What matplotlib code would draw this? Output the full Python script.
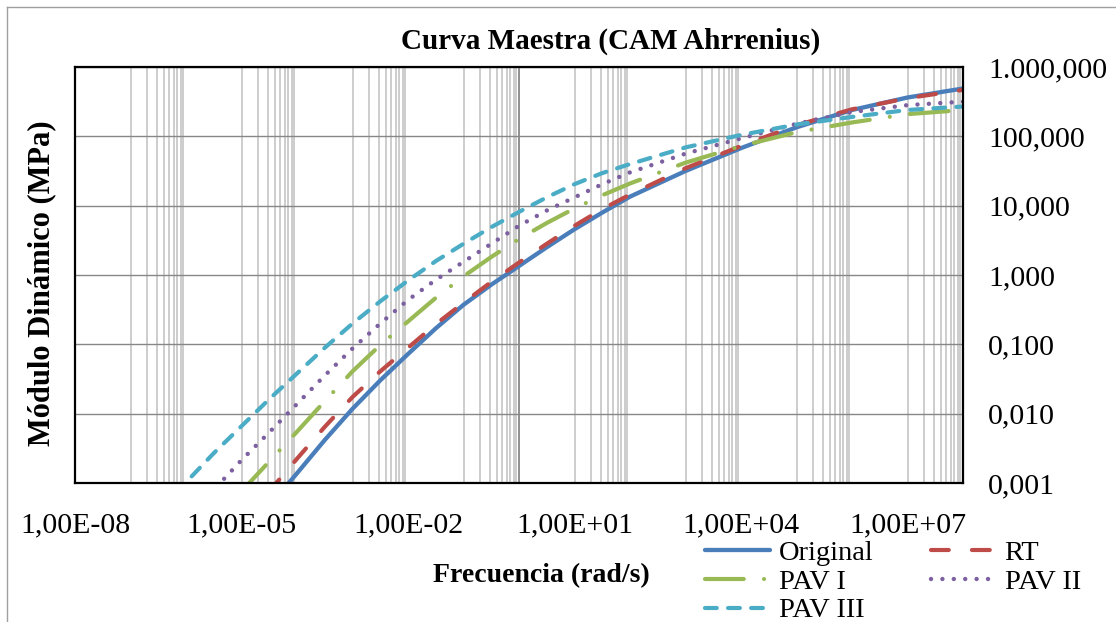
import matplotlib
matplotlib.use("Agg")
import matplotlib.pyplot as plt
from matplotlib.ticker import FixedLocator, FuncFormatter, NullFormatter
from matplotlib.lines import Line2D

# Frequency as decade exponents, log10(rad/s); half-decade steps where the curves bend most
log_freq_original = [-5, -4.5, -4, -3.5, -3, -2.5, -2, -1.5, -1, -0.5, 0, 0.5, 1, 1.5, 2, 3, 4, 5, 6, 7, 8]
log_freq_rt = [-5, -4.5, -4, -3.5, -3, -2.5, -2, -1.5, -1, -0.5, 0, 0.5, 1, 1.5, 2, 3, 4, 5, 6, 7, 8]
log_freq_pav1 = [-6, -5.5, -5, -4.5, -4, -3.5, -3, -2.5, -2, -1.5, -1, -0.5, 0, 0.5, 1, 1.5, 2, 3, 4, 5, 6, 7, 8]
log_freq_pav2 = [-6, -5.5, -5, -4.5, -4, -3.5, -3, -2.5, -2, -1.5, -1, -0.5, 0, 0.5, 1, 1.5, 2, 3, 4, 5, 6, 7, 8]
log_freq_pav3 = [-7, -6.5, -6, -5.5, -5, -4.5, -4, -3.5, -3, -2.5, -2, -1.5, -1, -0.5, 0, 0.5, 1, 1.5, 2, 3, 4, 5, 6, 7, 8]

# Dynamic modulus as decade exponents, log10(MPa)
log_mod_original = [-3.80, -3.33, -2.86, -2.38, -1.93, -1.52, -1.14, -0.77, -0.43, -0.14, 0.13, 0.40,
                    0.66, 0.90, 1.13, 1.50, 1.83, 2.13, 2.38, 2.56, 2.69]
log_mod_rt = [-3.60, -3.12, -2.65, -2.19, -1.76, -1.39, -1.05, -0.71, -0.40, -0.10, 0.18, 0.45,
              0.71, 0.95, 1.16, 1.54, 1.86, 2.16, 2.39, 2.55, 2.67]
log_mod_pav1 = [-4.00, -3.55, -3.12, -2.69, -2.26, -1.82, -1.39, -1.01, -0.67, -0.33, -0.02, 0.26,
                0.52, 0.75, 0.96, 1.15, 1.32, 1.62, 1.86, 2.06, 2.20, 2.32, 2.38]
log_mod_pav2 = [-3.55, -3.10, -2.67, -2.27, -1.86, -1.45, -1.06, -0.70, -0.36, -0.07, 0.19, 0.45,
                0.71, 0.93, 1.12, 1.31, 1.48, 1.75, 1.97, 2.18, 2.35, 2.45, 2.50]
log_mod_pav3 = [-3.90, -3.44, -2.99, -2.57, -2.18, -1.79, -1.42, -1.05, -0.70, -0.38, -0.08, 0.20,
                0.45, 0.69, 0.91, 1.12, 1.31, 1.47, 1.60, 1.84, 2.02, 2.17, 2.28, 2.38, 2.43]

series_labels = ["Original", "RT", "PAV I", "PAV II", "PAV III"]
x_tick_values = [1e-8, 1e-5, 1e-2, 1e1, 1e4, 1e7]
y_tick_values = [0.001, 0.01, 0.1, 1, 10, 100, 1000]


def pow10(values):
    return [10.0 ** v for v in values]


plt.rcParams["font.family"] = ["Liberation Serif", "DejaVu Serif"]
plt.rcParams["lines.scale_dashes"] = False

W, H = 1116, 622
fig = plt.figure(figsize=(W / 100, H / 100), dpi=100)
fig.patch.set_facecolor("white")
ax = fig.add_axes([75 / W, (H - 483) / H, 888 / W, 416 / H])
ax.set_xscale("log")
ax.set_yscale("log")
ax.set_xlim(1e-8, 1e8)
ax.set_ylim(1e-3, 1e3)

# light vertical grid: every other decade, 1..9 multiples
minor_x = [k * 10.0 ** n for n in range(-7, 8, 2) for k in range(1, 10)]
for xv in minor_x:
    ax.axvline(xv, color="#c0c0c0", lw=1.1, zorder=1)
# horizontal decade grid
for yv in y_tick_values:
    ax.axhline(yv, color="#878787", lw=1.0, zorder=1)
# value axis crossing at x = 1
ax.axvline(1.0, color="#878787", lw=1.3, zorder=1)

lw = 3.0
c_blue, c_red, c_green, c_purple, c_cyan = "#4a7ebb", "#be4b48", "#98b954", "#7d60a0", "#4bacc6"

l_orig, = ax.plot(pow10(log_freq_original), pow10(log_mod_original), color=c_blue, lw=3.1,
                  solid_capstyle="round", solid_joinstyle="round",
                  label=series_labels[0], zorder=3)
l_rt, = ax.plot(pow10(log_freq_rt), pow10(log_mod_rt), color=c_red, lw=lw,
                linestyle=(0, (12.8, 16.7)), dash_capstyle="round",
                label=series_labels[1], zorder=4)
l_p1, = ax.plot(pow10(log_freq_pav1), pow10(log_mod_pav1), color=c_green, lw=lw,
                linestyle=(0, (27.9, 14.6, 0.01, 14.6)), dash_capstyle="round",
                label=series_labels[2], zorder=4)
l_p2, = ax.plot(pow10(log_freq_pav2), pow10(log_mod_pav2), color=c_purple, lw=3.2,
                linestyle=(0, (0.01, 8.2)), dash_capstyle="round",
                label=series_labels[3], zorder=4)
l_p3, = ax.plot(pow10(log_freq_pav3), pow10(log_mod_pav3), color=c_cyan, lw=lw,
                linestyle=(0, (8.5, 8.1)), dash_capstyle="round",
                label=series_labels[4], zorder=4)

ax.xaxis.set_major_locator(FixedLocator(x_tick_values))
ax.xaxis.set_minor_locator(FixedLocator([]))
ax.xaxis.set_minor_formatter(NullFormatter())
ax.xaxis.set_major_formatter(FuncFormatter(lambda v, p: f"{v:.2E}".replace(".", ",")))

ax.yaxis.set_major_locator(FixedLocator(y_tick_values))
ax.yaxis.set_minor_locator(FixedLocator([]))
ax.yaxis.set_minor_formatter(NullFormatter())
ax.yaxis.set_major_formatter(FuncFormatter(
    lambda v, p: f"{v:,.3f}".replace(",", "#").replace(".", ",").replace("#", ".")))
ax.yaxis.tick_right()

ax.tick_params(axis="both", which="both", length=0, labelsize=21.5)
ax.tick_params(axis="x", pad=21)
ax.tick_params(axis="y", pad=18)

for s in ax.spines.values():
    s.set_color("black")
    s.set_linewidth(1.6)
    s.set_zorder(5)

fig.text(611 / W, 1 - 41 / H, "Curva Maestra (CAM Ahrrenius)", ha="center", va="center",
         fontsize=21, fontweight="bold")
fig.text(541 / W, 1 - 576 / H, "Frecuencia (rad/s)", ha="center", va="center",
         fontsize=20, fontweight="bold")
fig.text(42 / W, 1 - 283 / H, "Módulo Dinámico (MPa)", ha="center", va="center",
         rotation=90, fontsize=22, fontweight="bold")

handles = [l_orig, l_p1, l_p3, l_rt, l_p2]
fig.legend(handles=handles, labels=[h.get_label() for h in handles],
           loc="upper left", bbox_to_anchor=(705 / W, 1 - 540 / H), ncol=2,
           frameon=False, fontsize=20.5, handlelength=2.3, handletextpad=0.3,
           columnspacing=2.0, labelspacing=0.1, borderpad=0, borderaxespad=0)

# outer chart frame
fig.add_artist(Line2D([7 / W, 7 / W], [0, 1 - 7 / H], color="#a0a0a0", lw=1.0,
                      transform=fig.transFigure))
fig.add_artist(Line2D([7 / W, 1], [1 - 7 / H, 1 - 7 / H], color="#a0a0a0", lw=1.0,
                      transform=fig.transFigure))

fig.savefig("out.png", dpi=100)
